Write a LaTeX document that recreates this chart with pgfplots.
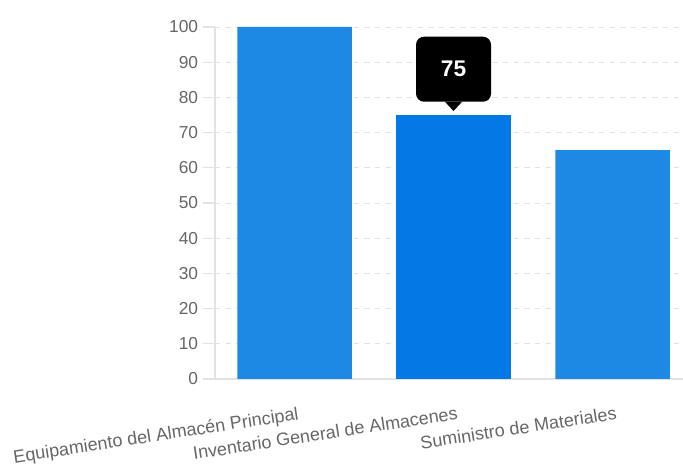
\documentclass[border=0pt]{standalone}
\usepackage{pgfplots}
\pgfplotsset{compat=1.18}
\usepackage{fontspec}
\setmainfont{Liberation Sans}
\definecolor{barblue}{HTML}{1E88E5}
\definecolor{barhover}{HTML}{0279E4}
\definecolor{gridgray}{HTML}{E2E2E2}
\definecolor{labelgray}{HTML}{666666}
\begin{document}
\begin{tikzpicture}
\path[use as bounding box] (-161.25pt,-65.25pt) rectangle (351pt,284.25pt);
\begin{axis}[
  at={(0,0)}, anchor=south west,
  scale only axis, width=351pt, height=264pt,
  xmin=-0.5, xmax=2.443, ymin=0, ymax=100,
  axis x line*=bottom, axis y line*=left,
  axis line style={gridgray, line width=0.8pt},
  xtick={0,1,2},
  xticklabels={Equipamiento del Almacén Principal, Inventario General de Almacenes, Suministro de Materiales},
  ytick={0,10,...,100},
  x tick style={draw=none},
  y tick style={gridgray, line width=0.8pt},
  tick align=outside, major tick length=9pt,
  ymajorgrids,
  grid style={gridgray, dashed, dash pattern=on 4pt off 4pt, line width=0.6pt},
  /pgf/number format/assume math mode=true,
  yticklabel style={font=\fontsize{13}{15}\selectfont, text=labelgray, inner sep=0pt, xshift=-3.5pt},
  xticklabel style={font=\fontsize{13.5}{15}\selectfont, text=labelgray, rotate=8.7, anchor=north east, inner sep=0pt, yshift=-11.5pt, xshift=0.5pt},
  ybar, bar width=0.72, bar shift=0pt,
  clip=false,
]
  \addplot[fill=barblue, draw=none] coordinates {(0,100) (2,65)};
  \addplot[fill=barhover, draw=none] coordinates {(1,75)};
  \fill[black] ([yshift=3pt]axis cs:1,75) -- ++(-6.5pt,7pt) -- ++(13pt,0pt) -- cycle;
  \node[fill=black, rounded corners=6pt, minimum width=56.25pt, minimum height=48.75pt,
        anchor=south, text=white, font=\bfseries\fontsize{17}{19}\selectfont]
        at ([yshift=9.75pt]axis cs:1,75) {75};
\end{axis}
\end{tikzpicture}
\end{document}
